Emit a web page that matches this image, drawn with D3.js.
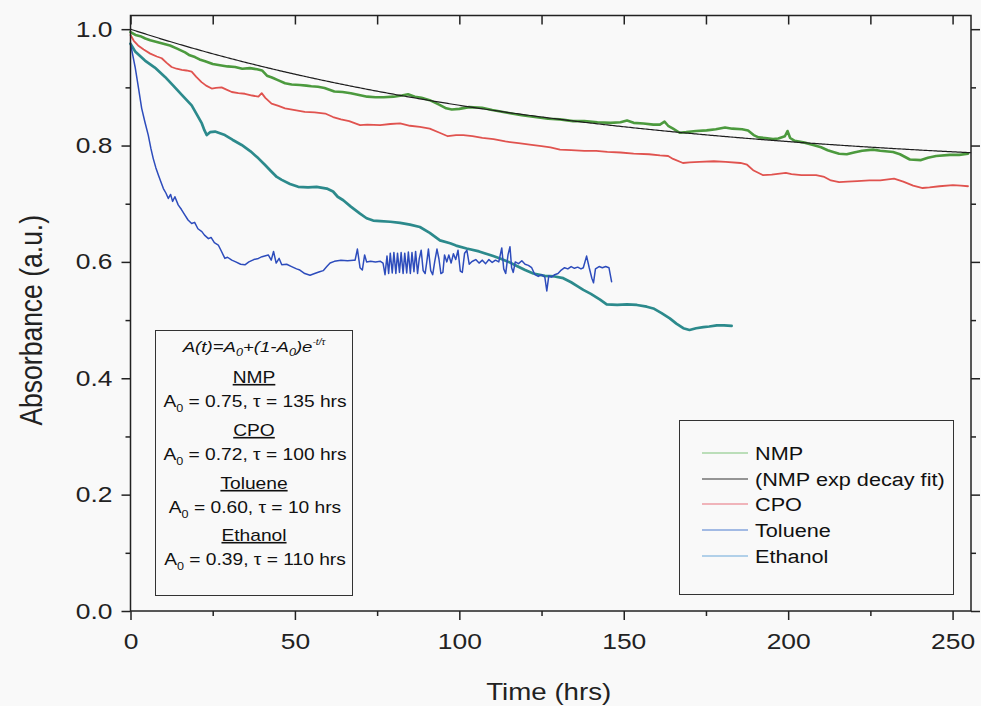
<!DOCTYPE html>
<html>
<head>
<meta charset="utf-8">
<script src="https://cdn.jsdelivr.net/npm/d3@7"></script>
<style>
  html, body { margin: 0; padding: 0; background: #f9f9f9; }
  svg { display: block; font-family: "Liberation Sans", Arial, sans-serif; }
</style>
</head>
<body>
<svg id="chart" width="981" height="706"></svg>
<script>
// ---- data: time (hrs) and absorbance (a.u.) ----
const nmpT = [0,1.5,3,4.5,6,8,10,12,14,16.6,18,19.6,21,22.7,25,27.2,29.5,31.8,34,36.3,38.5,40,41.5,43,45,47,49,51.5,53.5,55,57,59,62,64.5,67,69.5,72,74.5,77,80,82.5,84.4,86.5,88.5,91,94,96,97.7,100,103,106.9,110,115,119,123,127,130.6,134.6,138,142,146,149,151,153,156,159,161,162.4,163.5,165,167,169,172,175.2,178,180.8,183,186,187.8,189.5,191,193,195.4,197,199,199.8,200.6,202,205,207.6,210,212,213.7,215.5,217.8,220,222.5,225.8,228,231.9,234,237,240.4,242.5,245,249.2,252,254.7];
const nmpA = [0.995,0.990,0.988,0.984,0.981,0.978,0.975,0.972,0.967,0.960,0.955,0.952,0.948,0.945,0.940,0.938,0.936,0.935,0.932,0.933,0.931,0.929,0.920,0.917,0.912,0.907,0.905,0.904,0.903,0.902,0.901,0.899,0.893,0.892,0.890,0.887,0.884,0.883,0.883,0.884,0.886,0.888,0.884,0.882,0.878,0.870,0.864,0.862,0.863,0.866,0.865,0.861,0.856,0.852,0.849,0.846,0.845,0.842,0.842,0.840,0.839,0.840,0.843,0.839,0.838,0.836,0.836,0.841,0.834,0.829,0.822,0.823,0.825,0.826,0.828,0.831,0.829,0.828,0.826,0.818,0.814,0.813,0.811,0.812,0.816,0.825,0.813,0.808,0.805,0.801,0.797,0.792,0.789,0.786,0.785,0.788,0.791,0.793,0.791,0.789,0.785,0.776,0.775,0.779,0.782,0.784,0.784,0.786];

const cpoT = [0,1,2.3,4,6,8,9.5,11,12.5,14,15.6,17,18.6,20,21.6,23,24.7,26,27.7,29.2,30.8,32.8,34.8,37,38.9,39.9,41,42.9,45,47,50,53,56,59.2,61.6,64,66.5,69.8,72,75.9,79,82,85,88,91,94,96.5,99,101.2,104,107,110.4,114,118,122,125,127.7,130.6,134,138,141.6,145,149,153,157.7,161,163.5,165,168,170,173,177.4,181,185.5,187.5,189.5,192.4,195,199.3,201,204,208.5,211,213,215.5,218,221,224.7,228,232.2,235,238,240.9,243,246,250.1,252.5,254.7];
const cpoA = [0.990,0.980,0.972,0.965,0.958,0.953,0.950,0.942,0.935,0.932,0.930,0.929,0.927,0.918,0.909,0.903,0.898,0.899,0.900,0.896,0.892,0.890,0.889,0.886,0.884,0.890,0.882,0.872,0.868,0.864,0.861,0.858,0.857,0.855,0.849,0.845,0.842,0.835,0.836,0.835,0.837,0.838,0.834,0.832,0.829,0.822,0.816,0.818,0.818,0.816,0.813,0.811,0.807,0.804,0.801,0.799,0.797,0.793,0.792,0.791,0.791,0.789,0.788,0.786,0.785,0.783,0.782,0.777,0.770,0.771,0.772,0.773,0.772,0.770,0.767,0.757,0.749,0.750,0.753,0.751,0.749,0.749,0.746,0.740,0.737,0.738,0.739,0.740,0.740,0.743,0.738,0.731,0.727,0.728,0.730,0.732,0.731,0.730];

const tolT = [0,0.7,1.4,2.4,3.4,4.4,5.4,6.2,6.9,7.7,8.5,9.2,10,10.8,11.5,12.2,12.8,13.5,14.5,15.5,16.6,17.5,18.6,19.5,20.5,21.7,22.5,23.7,24.5,25.5,26.7,27.5,28.7,29.5,30.8,32,33.5,34.8,36,37.5,38.9,40,41.9,42.8,43.5,44.3,45.2,46,47.5,49,50.5,51.5,53,54.6,56,57.5,58.6,59.7,60.7,62,64,66,67.8,68.3,69,69.8,70.5,71.2,71.8,73,74.5,76,76.8,77.4,78,78.5,79,79.6,80.1,80.7,81.2,81.8,82.3,82.9,83.4,84,84.5,85.1,85.6,86.2,86.7,87.3,87.8,88.4,89,89.6,90.1,90.6,91.3,91.9,92.5,93.2,93.8,94.4,95,95.5,96.2,96.8,97.5,98.2,98.9,99.6,100.3,100.9,101.6,102.3,103,103.7,104.3,105,106,107,108,109,110,111,112,112.9,113.5,114.1,114.8,115.4,115.9,116.4,117,118,119,120,121,122,123,124,125,126,126.6,127.2,128,129,130,131,132,133,134,135,136,137,137.7,138.7,139.5,140.3,140.8,141.4,142.5,143.5,144.5,145.5,146.3];
const tolA = [0.975,0.955,0.935,0.900,0.864,0.840,0.818,0.795,0.778,0.762,0.749,0.738,0.726,0.718,0.709,0.716,0.704,0.712,0.698,0.690,0.680,0.672,0.666,0.668,0.657,0.652,0.646,0.640,0.642,0.633,0.629,0.620,0.606,0.608,0.603,0.600,0.596,0.595,0.600,0.604,0.606,0.609,0.612,0.603,0.618,0.598,0.606,0.595,0.596,0.592,0.588,0.586,0.580,0.577,0.580,0.583,0.585,0.592,0.598,0.601,0.603,0.602,0.603,0.603,0.622,0.590,0.586,0.612,0.600,0.601,0.600,0.601,0.598,0.578,0.610,0.580,0.615,0.581,0.616,0.580,0.615,0.582,0.616,0.580,0.615,0.581,0.617,0.580,0.616,0.583,0.618,0.580,0.605,0.620,0.585,0.580,0.600,0.622,0.585,0.578,0.600,0.622,0.605,0.580,0.582,0.612,0.600,0.612,0.598,0.614,0.604,0.620,0.584,0.582,0.615,0.620,0.596,0.600,0.602,0.604,0.598,0.603,0.597,0.604,0.599,0.603,0.600,0.624,0.588,0.580,0.612,0.626,0.590,0.582,0.600,0.597,0.602,0.596,0.594,0.590,0.578,0.575,0.578,0.574,0.550,0.576,0.574,0.578,0.580,0.586,0.590,0.588,0.592,0.589,0.591,0.588,0.590,0.610,0.590,0.572,0.564,0.588,0.592,0.590,0.592,0.590,0.566];

const ethT = [0,1.5,4.4,7.4,10.5,13,15.6,18.6,20.2,21.7,22.5,23.2,24.2,25.7,27.2,28.7,31,33.8,36.5,38.9,41,42.9,44.5,46,48.5,51,54,56.6,59.7,61.6,63,64.7,67,69.8,71.8,73.8,76,79,82,85,88,91,94.1,97.2,99,102.2,106,110.3,112.4,115,117.5,120,122.5,126,129,131.6,134,136,137.7,140,142.8,144.8,148,151,154,157,159,161.5,164,166,168.1,170,172,174.2,176,178.3,180.5,182.8];
const ethA = [0.975,0.961,0.946,0.934,0.918,0.903,0.887,0.869,0.853,0.838,0.826,0.818,0.823,0.824,0.821,0.818,0.810,0.801,0.790,0.778,0.766,0.755,0.746,0.741,0.734,0.729,0.728,0.729,0.726,0.721,0.712,0.706,0.695,0.683,0.675,0.671,0.670,0.669,0.667,0.664,0.660,0.650,0.637,0.632,0.628,0.623,0.618,0.610,0.606,0.600,0.593,0.586,0.580,0.576,0.575,0.572,0.565,0.558,0.552,0.545,0.535,0.527,0.526,0.527,0.526,0.523,0.520,0.512,0.503,0.494,0.486,0.483,0.486,0.488,0.489,0.491,0.491,0.490];

// fitted decay parameters A(t) = A0 + (1 - A0) exp(-t / tau)
const fitNames = ["NMP", "CPO", "Toluene", "Ethanol"];
const fitA0 = ["0.75", "0.72", "0.60", "0.39"];
const fitTau = ["135", "100", "10", "110"];

const legendLabels = ["NMP", "(NMP exp decay fit)", "CPO", "Toluene", "Ethanol"];
const xTicks = [0, 50, 100, 150, 200, 250];
const yTicks = [0.0, 0.2, 0.4, 0.6, 0.8, 1.0];

// ---- layout ----
const svg = d3.select("#chart");
const X0 = 130.5, X1 = 971, Y0 = 611, Y1 = 15.5;
const x = d3.scaleLinear().domain([0, 255.6]).range([X0, X1]);
const y = d3.scaleLinear().domain([0, 1.0235]).range([Y0, Y1]);
const SX = 1.2; // wide lettering used throughout the figure

const colors = {
  nmp: "#4c9a3e", fit: "#1e1e1e", cpo: "#e0534f", tol: "#2d4cbc", eth: "#2c8a8c"
};
const swatch = ["#7ec47a", "#333333", "#e8707c", "#4c7cd0", "#6aa8da"];

// fit curve sampled from the stated NMP parameters
const a0 = +fitA0[0], tau = +fitTau[0];
const fitPts = d3.range(0, 255.7, 0.5).map(t => [t, a0 + (1 - a0) * Math.exp(-t / tau)]);

const zip = (ts, as) => ts.map((t, i) => [t, as[i]]);
const line = d3.line().x(d => x(d[0])).y(d => y(d[1]));

const plot = svg.append("g");
const drawSeries = (pts, color, w) => plot.append("path").datum(pts).attr("d", line)
  .attr("fill", "none").attr("stroke", color).attr("stroke-width", w)
  .attr("stroke-linejoin", "round").attr("stroke-linecap", "round");
drawSeries(zip(ethT, ethA), colors.eth, 2.7);
drawSeries(zip(tolT, tolA), colors.tol, 1.5);
drawSeries(zip(cpoT, cpoA), colors.cpo, 1.8);
drawSeries(zip(nmpT, nmpA), colors.nmp, 2.6);
drawSeries(fitPts, colors.fit, 1.2);

// ---- axes ----
const axisColor = "#222";
const fmtY = d3.format(".1f");
const styleAxis = g => {
  g.selectAll(".domain").remove();
  g.selectAll("line").attr("stroke", axisColor).attr("stroke-width", 1.5);
  g.selectAll("text").attr("fill", "#222").attr("font-size", 22)
    .attr("font-family", "Liberation Sans, Arial, sans-serif");
};

// bottom: major outward with labels, minor outward
svg.append("g").attr("transform", `translate(0,${Y0})`)
  .call(d3.axisBottom(x).tickValues(xTicks).tickSize(9).tickPadding(13).tickFormat(d3.format("d")))
  .call(styleAxis)
  .call(g => g.selectAll("text").attr("transform", `scale(${SX},1)`));
svg.append("g").attr("transform", `translate(0,${Y0})`)
  .call(d3.axisBottom(x).tickValues([25, 75, 125, 175, 225]).tickSize(5).tickFormat(""))
  .call(styleAxis);
// left
svg.append("g").attr("transform", `translate(${X0},0)`)
  .call(d3.axisLeft(y).tickValues(yTicks).tickSize(9).tickFormat(fmtY))
  .call(styleAxis)
  .call(g => g.selectAll("text").attr("x", -18 / SX).attr("transform", `scale(${SX},1)`));
svg.append("g").attr("transform", `translate(${X0},0)`)
  .call(d3.axisLeft(y).tickValues([0.1, 0.3, 0.5, 0.7, 0.9]).tickSize(5).tickFormat(""))
  .call(styleAxis);
// top: inward ticks
svg.append("g").attr("transform", `translate(0,${Y1})`)
  .call(d3.axisBottom(x).tickValues(d3.range(0, 251, 25)).tickSize(9).tickFormat(""))
  .call(styleAxis);
// right: outward ticks
svg.append("g").attr("transform", `translate(${X1},0)`)
  .call(d3.axisRight(y).tickValues(yTicks).tickSize(9).tickFormat(""))
  .call(styleAxis);
svg.append("g").attr("transform", `translate(${X1},0)`)
  .call(d3.axisRight(y).tickValues([0.1, 0.3, 0.5, 0.7, 0.9]).tickSize(5).tickFormat(""))
  .call(styleAxis);

// frame
svg.append("rect").attr("x", X0).attr("y", Y1).attr("width", X1 - X0).attr("height", Y0 - Y1)
  .attr("fill", "none").attr("stroke", axisColor).attr("stroke-width", 1.5);

// axis titles
svg.append("text").attr("transform", `translate(${(X0 + X1) / 2 - 2},700) scale(1.13,1)`)
  .attr("text-anchor", "middle").attr("font-size", 24.5).attr("fill", "#222").text("Time (hrs)");
svg.append("text").attr("transform", `translate(42,${(Y0 + Y1) / 2 + 7}) rotate(-90) scale(1,${SX})`)
  .attr("text-anchor", "middle").attr("font-size", 26.5).attr("fill", "#222").text("Absorbance (a.u.)");

// ---- fit parameter box ----
const box = svg.append("g");
box.append("rect").attr("x", 155.5).attr("y", 330.5).attr("width", 197).attr("height", 265)
  .attr("fill", "none").attr("stroke", "#333").attr("stroke-width", 1);
const cx = 254;
const eq = box.append("text").attr("transform", `translate(${cx},352) scale(${SX},1)`)
  .attr("text-anchor", "middle").attr("font-size", 15.5).attr("font-style", "italic").attr("fill", "#111");
eq.append("tspan").text("A(t)=A");
eq.append("tspan").attr("font-size", 10.5).attr("dy", 4).text("0");
eq.append("tspan").attr("dy", -4).text("+(1-A");
eq.append("tspan").attr("font-size", 10.5).attr("dy", 4).text("0");
eq.append("tspan").attr("dy", -4).text(")e");
eq.append("tspan").attr("font-size", 8.5).attr("dy", -7).text("-t/\u03c4");

const rowY = [383, 436, 489, 541];
fitNames.forEach((name, i) => {
  box.append("text").attr("transform", `translate(${cx},${rowY[i]}) scale(${SX},1)`)
    .attr("text-anchor", "middle").attr("font-size", 16).attr("fill", "#111")
    .attr("text-decoration", "underline").text(name);
  const t = box.append("text").attr("transform", `translate(${cx + 1},${rowY[i] + 24}) scale(${SX},1)`)
    .attr("text-anchor", "middle").attr("font-size", 16).attr("fill", "#111");
  t.append("tspan").text("A");
  t.append("tspan").attr("font-size", 10.5).attr("dy", 5).text("0");
  t.append("tspan").attr("dy", -5).text(` = ${fitA0[i]}, \u03c4 = ${fitTau[i]} hrs`);
});

// ---- legend ----
const leg = svg.append("g");
leg.append("rect").attr("x", 679.5).attr("y", 420.5).attr("width", 274).attr("height", 174)
  .attr("fill", "#f9f9f9").attr("stroke", "#333").attr("stroke-width", 1);
const legY = [453, 479, 504, 530, 556];
legendLabels.forEach((lab, i) => {
  leg.append("line").attr("x1", 702).attr("x2", 748).attr("y1", legY[i]).attr("y2", legY[i])
    .attr("stroke", swatch[i]).attr("stroke-width", 1.2);
  leg.append("text").attr("transform", `translate(755,${legY[i] + 7}) scale(1.14,1)`)
    .attr("font-size", 19).attr("fill", "#111").text(lab);
});
</script>
</body>
</html>
